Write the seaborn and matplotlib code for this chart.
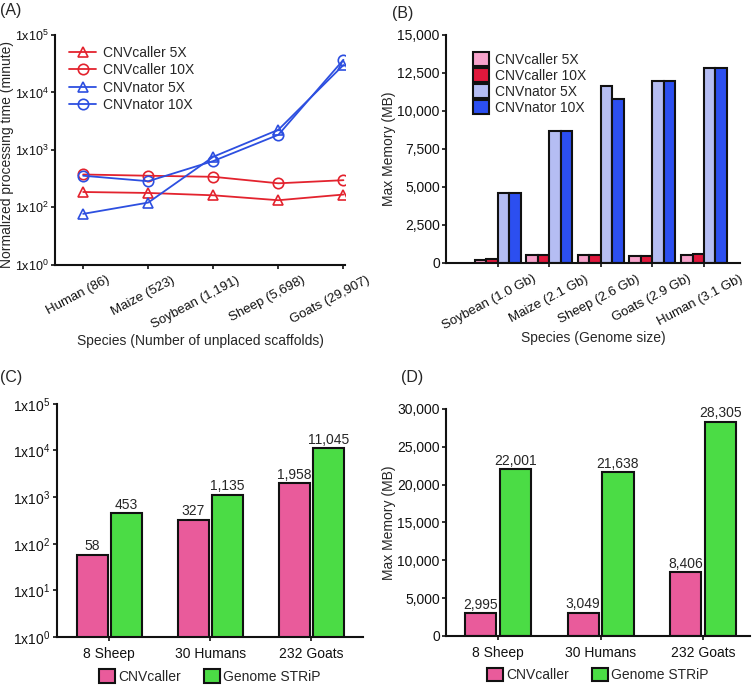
import numpy as np
import pandas as pd
import matplotlib
matplotlib.use("Agg")
import matplotlib.pyplot as plt
import matplotlib.transforms as mtransforms
import seaborn as sns
from matplotlib.patches import Patch
from matplotlib.lines import Line2D

sns.set_style("ticks")
plt.rcParams["font.family"] = ["Liberation Sans", "DejaVu Sans"]
plt.rcParams["mathtext.fontset"] = "custom"
plt.rcParams["mathtext.rm"] = "Liberation Sans"
plt.rcParams["mathtext.it"] = "Liberation Sans:italic"
plt.rcParams["mathtext.bf"] = "Liberation Sans:bold"

# ---------------- data ----------------
# Panel A
a_species = ["Human (86)", "Maize (523)", "Soybean (1,191)", "Sheep (5,698)", "Goats (29,907)"]
a_series = ["CNVcaller 5X", "CNVcaller 10X", "CNVnator 5X", "CNVnator 10X"]
a_caller_5x = [185, 178, 162, 133, 167]
a_caller_10x = [373, 355, 340, 262, 297]
a_nator_5x = [77, 121, 760, 2240, 30000]
a_nator_10x = [355, 285, 640, 1830, 37000]
a_yticks = [10, 100, 1000, 10000, 100000]
a_yticklabels = [r"1x10$^{0}$", r"1x10$^{2}$", r"1x10$^{3}$", r"1x10$^{4}$", r"1x10$^{5}$"]

# Panel B
b_species = ["Soybean (1.0 Gb)", "Maize (2.1 Gb)", "Sheep (2.6 Gb)", "Goats (2.9 Gb)", "Human (3.1 Gb)"]
b_series = ["CNVcaller 5X", "CNVcaller 10X", "CNVnator 5X", "CNVnator 10X"]
b_caller_5x = [180, 520, 480, 430, 530]
b_caller_10x = [230, 530, 500, 450, 560]
b_nator_5x = [4600, 8700, 11650, 12000, 12800]
b_nator_10x = [4600, 8700, 10800, 12000, 12800]
b_yticks = [0, 2500, 5000, 7500, 10000, 12500, 15000]

# Panels C and D
cd_groups = ["8 Sheep", "30 Humans", "232 Goats"]
cd_tools = ["CNVcaller", "Genome STRiP"]
c_cnvcaller = [58, 327, 1958]
c_genomestrip = [453, 1135, 11045]
c_yticks = [1, 10, 100, 1000, 10000, 100000]
c_yticklabels = [r"1x10$^{0}$", r"1x10$^{1}$", r"1x10$^{2}$", r"1x10$^{3}$", r"1x10$^{4}$", r"1x10$^{5}$"]
d_cnvcaller = [2995, 3049, 8406]
d_genomestrip = [22001, 21638, 28305]
d_yticks = [0, 5000, 10000, 15000, 20000, 25000, 30000]

# ---------------- style ----------------
FS = 10
red = "#e3232e"
blue = "#2d4fe0"
pal_b = ["#f7a3cb", "#e0183c", "#b5bdf3", "#2c4ff0"]
pal_cd = ["#e95b9b", "#4bdc45"]

fig = plt.figure(figsize=(7.56, 6.86), dpi=100)
axA = fig.add_axes([0.073, 0.614, 0.383, 0.335])
axB = fig.add_axes([0.590, 0.617, 0.389, 0.332])
axC = fig.add_axes([0.075, 0.0714, 0.405, 0.340])
axD = fig.add_axes([0.590, 0.073, 0.402, 0.331])


def style_axes(ax):
    for s in ["top", "right"]:
        ax.spines[s].set_visible(False)
    for s in ["left", "bottom"]:
        ax.spines[s].set_linewidth(1.5)
        ax.spines[s].set_color("#111111")
    ax.tick_params(axis="both", direction="out", length=3, width=1.2,
                   labelsize=FS, colors="#111111", pad=1.5)


def shift_labels(ax, dx_px, dy_px):
    off = mtransforms.ScaledTranslation(dx_px / 100.0, dy_px / 100.0,
                                        fig.dpi_scale_trans)
    for lab in ax.get_xticklabels():
        lab.set_transform(lab.get_transform() + off)


# ---------------- Panel A ----------------
a_x = np.arange(len(a_species))
a_vals = [a_caller_5x, a_caller_10x, a_nator_5x, a_nator_10x]
a_colors = [red, red, blue, blue]
a_markers = ["^", "o", "^", "o"]
handles = []
for name, vals, col, mk in zip(a_series, a_vals, a_colors, a_markers):
    sns.lineplot(x=a_x, y=vals, ax=axA, color=col, marker=mk, markersize=7.5,
                 markerfacecolor="none", markeredgecolor=col, markeredgewidth=1.2,
                 linewidth=1.3)
    handles.append(Line2D([0], [0], color=col, marker=mk, markersize=7.5,
                          markerfacecolor="none", markeredgecolor=col,
                          markeredgewidth=1.2, linewidth=1.3, label=name))
axA.set_yscale("log")
axA.set_ylim(10, 100000)
axA.set_yticks(a_yticks)
axA.set_yticklabels(a_yticklabels)
axA.minorticks_off()
axA.set_xlim(-0.43, 4.02)
axA.set_xticks(a_x)
axA.set_xticklabels(a_species, rotation=28, ha="right", rotation_mode="anchor")
axA.set_xlabel("Species (Number of unplaced scaffolds)", fontsize=FS)
axA.set_ylabel("Normalized processing time (minute)", fontsize=FS)
axA.yaxis.set_label_coords(-0.141, 0.48)
axA.xaxis.set_label_coords(0.5, -0.30)
style_axes(axA)
axA.tick_params(axis="y", labelsize=9)
axA.tick_params(axis="x", labelsize=9.5)
shift_labels(axA, 23, -3)
axA.legend(handles=handles, loc="upper left", bbox_to_anchor=(0.02, 0.99),
           frameon=False, fontsize=FS, labelspacing=0.25, handlelength=1.9,
           handletextpad=0.5, borderaxespad=0.2)

# ---------------- Panel B ----------------
dfB = pd.DataFrame({
    "species": np.repeat(b_species, len(b_series)),
    "series": b_series * len(b_species),
    "value": np.ravel(np.column_stack([b_caller_5x, b_caller_10x, b_nator_5x, b_nator_10x])),
})
sns.barplot(data=dfB, x="species", y="value", hue="series", hue_order=b_series,
            order=b_species, palette=pal_b, width=0.89, edgecolor="#111111",
            linewidth=1.5, ax=axB, legend=False, saturation=1)
axB.set_ylim(0, 15000)
axB.set_yticks(b_yticks)
axB.set_yticklabels([f"{v:,}" for v in b_yticks])
axB.set_xlim(-1.0, 4.7)
axB.set_xticks(range(len(b_species)))
axB.set_xticklabels(b_species, rotation=28, ha="right", rotation_mode="anchor")
axB.set_xlabel("Species (Genome size)", fontsize=FS)
axB.set_ylabel("Max Memory (MB)", fontsize=FS)
axB.yaxis.set_label_coords(-0.17, 0.5)
axB.xaxis.set_label_coords(0.5, -0.30)
style_axes(axB)
axB.tick_params(axis="x", labelsize=9.5)
shift_labels(axB, 35, -4)
hB = [Patch(facecolor=c, edgecolor="#111111", linewidth=1.5, label=l)
      for c, l in zip(pal_b, b_series)]
axB.legend(handles=hB, loc="upper left", bbox_to_anchor=(0.065, 0.96),
           frameon=False, fontsize=FS, labelspacing=0.1, handlelength=1.15,
           handleheight=1.15, handletextpad=0.4, borderaxespad=0.2)


# ---------------- Panels C and D ----------------
def cd_panel(ax, v1, v2, log):
    df = pd.DataFrame({
        "group": cd_groups * 2,
        "tool": np.repeat(cd_tools, len(cd_groups)),
        "value": list(v1) + list(v2),
    })
    if log:
        ax.set_yscale("log")
    sns.barplot(data=df, x="group", y="value", hue="tool", hue_order=cd_tools,
                order=cd_groups, palette=pal_cd, width=0.68, gap=0.1,
                edgecolor="#111111", linewidth=1.5, ax=ax, legend=False,
                saturation=1)
    for cont in ax.containers:
        ax.bar_label(cont, labels=[f"{v:,.0f}" for v in cont.datavalues],
                     fontsize=FS, padding=1)
    ax.set_xlabel("")
    style_axes(ax)
    ax.tick_params(axis="x", pad=4)
    h = [Patch(facecolor=c, edgecolor="#111111", linewidth=1.5, label=l)
         for c, l in zip(pal_cd, cd_tools)]
    ax.legend(handles=h, loc="upper center", bbox_to_anchor=(0.5, -0.115),
              ncol=2, frameon=False, fontsize=FS, handlelength=1.15,
              handleheight=1.15, handletextpad=0.2, columnspacing=1.7,
              borderaxespad=0)


cd_panel(axC, c_cnvcaller, c_genomestrip, True)
axC.set_ylim(1, 100000)
axC.set_yticks(c_yticks)
axC.set_yticklabels(c_yticklabels)
axC.minorticks_off()
axC.set_xlim(-0.52, 2.51)
axC.set_ylabel("")

cd_panel(axD, d_cnvcaller, d_genomestrip, False)
axD.set_ylim(0, 30000)
axD.set_yticks(d_yticks)
axD.set_yticklabels([f"{v:,}" for v in d_yticks])
axD.set_xlim(-0.51, 2.46)
axD.set_ylabel("Max Memory (MB)", fontsize=FS)
axD.yaxis.set_label_coords(-0.164, 0.5)

# panel letters
fig.text(0.0, 0.985, "(A)", fontsize=11.5, va="center", ha="left")
fig.text(0.519, 0.981, "(B)", fontsize=11.5, va="center", ha="left")
fig.text(0.0, 0.449, "(C)", fontsize=11.5, va="center", ha="left")
fig.text(0.530, 0.449, "(D)", fontsize=11.5, va="center", ha="left")

fig.savefig("out.png", dpi=100)
